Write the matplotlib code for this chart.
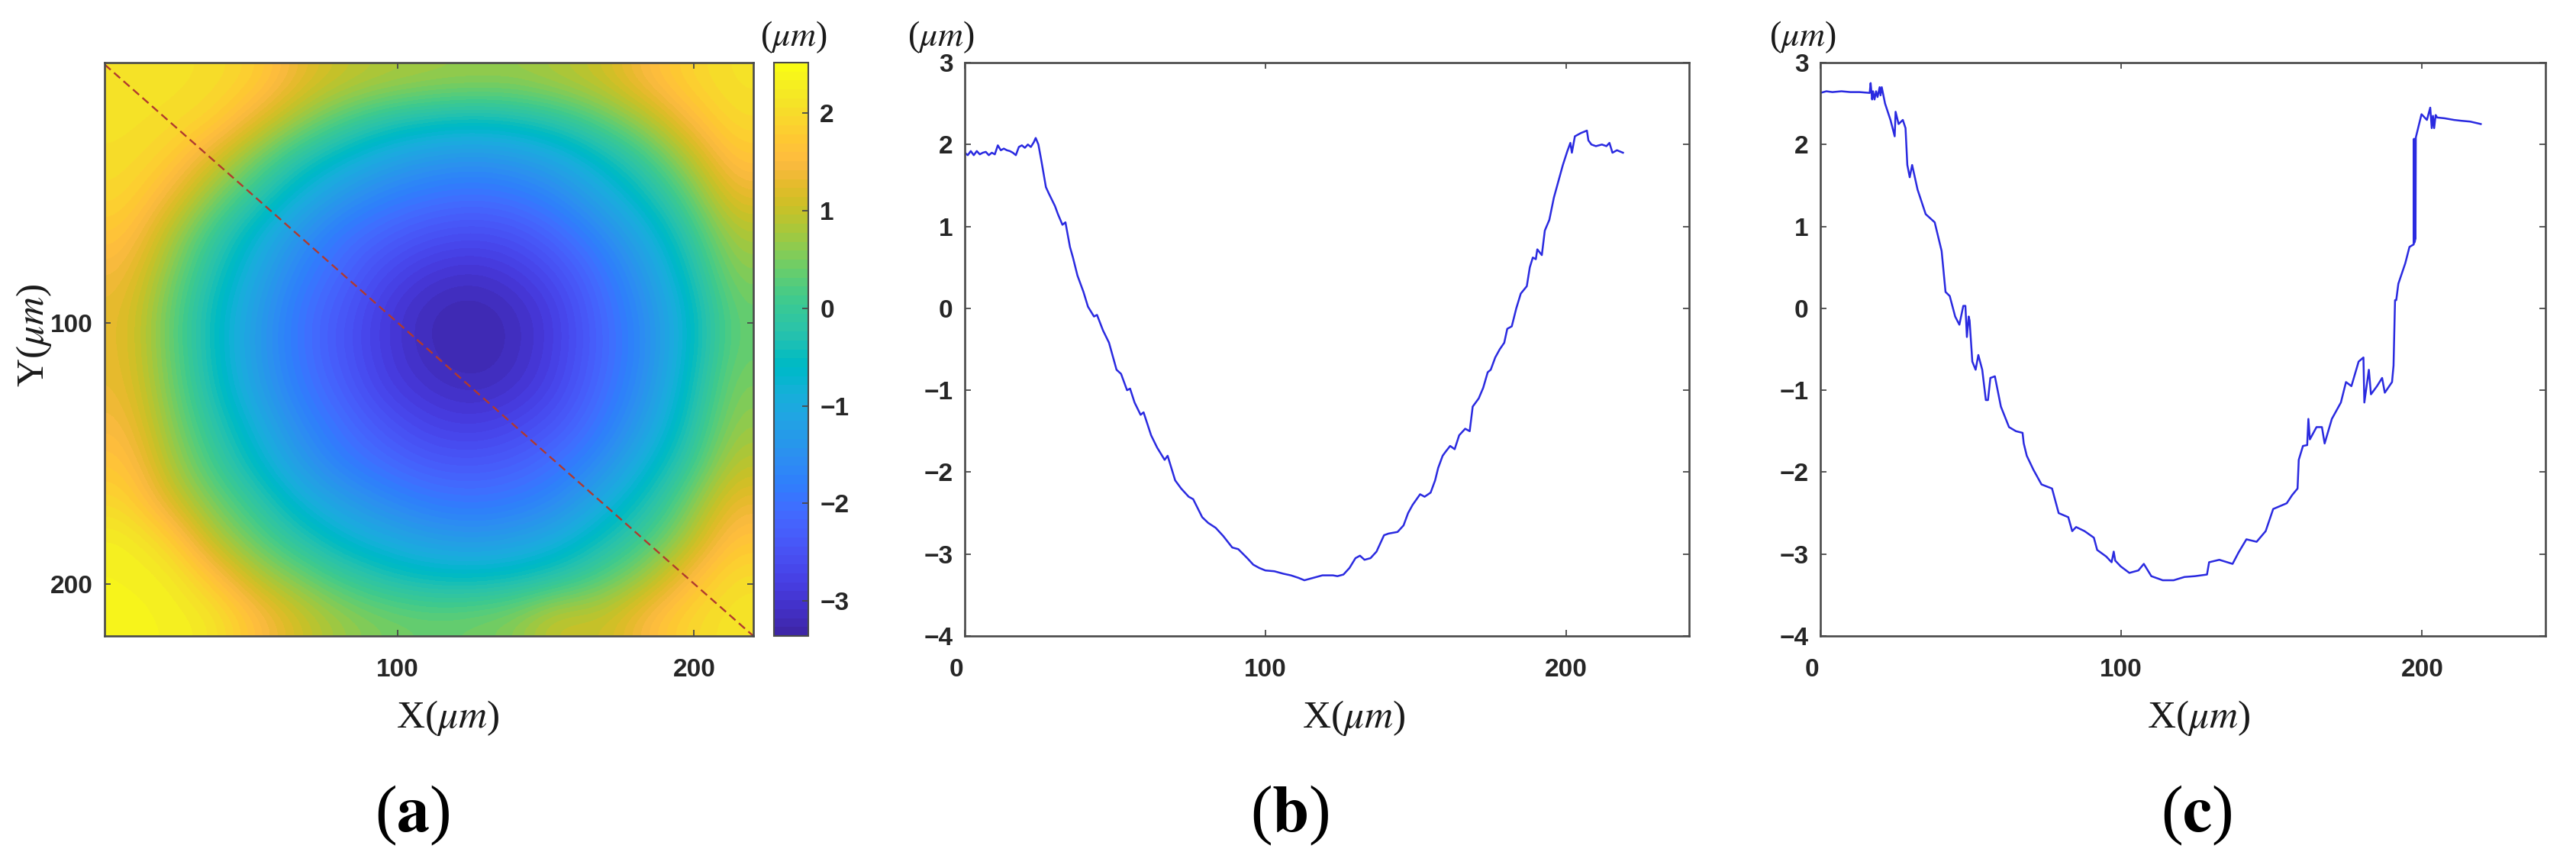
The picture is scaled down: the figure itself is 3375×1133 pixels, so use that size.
import numpy as np
import matplotlib
matplotlib.use("Agg")
import matplotlib.pyplot as plt
from matplotlib.colors import ListedColormap
from matplotlib.transforms import ScaledTranslation

W, H = 3375, 1133

# ---- data ----
height_map = [
    [2.10, 2.10, 2.05, 1.85, 1.30, 1.00, 0.85, 0.75, 0.70, 0.70, 0.85, 1.05, 1.50, 1.90, 2.10],
    [2.10, 2.05, 1.90, 1.30, 0.70, 0.20, -0.20, -0.40, -0.50, -0.40, -0.15, 0.30, 0.80, 1.50, 2.00],
    [2.05, 1.85, 1.20, 0.50, -0.20, -0.70, -1.10, -1.35, -1.45, -1.35, -1.05, -0.55, 0.05, 0.85, 1.70],
    [1.95, 1.40, 0.60, -0.15, -0.85, -1.40, -1.75, -1.95, -2.05, -1.95, -1.65, -1.10, -0.50, 0.30, 1.30],
    [1.70, 0.90, 0.00, -0.75, -1.45, -1.95, -2.25, -2.50, -2.60, -2.50, -2.15, -1.65, -1.00, -0.15, 0.85],
    [1.45, 0.60, -0.30, -1.05, -1.75, -2.20, -2.65, -2.95, -3.05, -2.90, -2.55, -2.00, -1.35, -0.45, 0.60],
    [1.30, 0.40, -0.50, -1.25, -1.95, -2.40, -2.90, -3.20, -3.30, -3.15, -2.80, -2.15, -1.55, -0.70, 0.40],
    [1.30, 0.40, -0.50, -1.30, -1.95, -2.45, -2.90, -3.20, -3.33, -3.17, -2.80, -2.20, -1.60, -0.70, 0.40],
    [1.35, 0.50, -0.40, -1.20, -1.85, -2.30, -2.80, -3.05, -3.17, -3.05, -2.70, -2.10, -1.50, -0.55, 0.55],
    [1.50, 0.65, -0.15, -0.90, -1.60, -2.05, -2.45, -2.75, -2.85, -2.70, -2.40, -1.90, -1.25, -0.35, 0.70],
    [1.70, 0.85, 0.10, -0.60, -1.30, -1.80, -2.10, -2.35, -2.40, -2.30, -2.00, -1.55, -0.85, -0.05, 0.95],
    [1.95, 1.20, 0.50, -0.10, -0.80, -1.25, -1.60, -1.85, -1.95, -1.85, -1.60, -1.00, -0.40, 0.45, 1.35],
    [2.30, 1.90, 0.95, 0.35, -0.20, -0.70, -1.00, -1.25, -1.35, -1.25, -0.95, -0.45, 0.10, 0.85, 1.70],
    [2.35, 2.30, 1.70, 0.95, 0.50, 0.05, -0.30, -0.50, -0.55, -0.45, -0.20, 0.25, 0.75, 1.50, 2.05],
    [2.35, 2.35, 2.20, 1.60, 1.10, 0.70, 0.50, 0.40, 0.45, 0.60, 1.10, 1.00, 1.50, 1.95, 2.15],
]
diagonal_x = [1, 220]
diagonal_y = [1, 220]

profile_b_x = [0, 1, 2, 3, 4, 5, 6, 7, 8, 9, 10, 11, 12, 13, 14, 15, 16, 17, 18, 19, 20, 21, 22, 23, 23.6, 24.5,
               25.5, 27, 28, 30, 31, 32.5, 33.5, 35, 36, 37.5, 39.5, 41, 43, 44, 46, 48, 49.5, 50.5, 52, 54, 55, 56.5, 58.5, 59.5, 62, 64, 66.5,
               67.5, 70, 72, 74.5, 76, 79, 81, 83.5, 86, 89, 91, 94, 96, 98, 100, 103, 106, 108.5, 111, 113, 115, 117, 119,
               122.5, 124, 126, 128, 130, 131.5, 133, 135, 137, 139.5, 141, 144, 146, 147.5, 149, 151.5, 153, 155, 156.5,
               157.5, 159, 160, 161.5, 163, 164.5, 166.5, 168, 169, 171, 172.5, 174, 175, 176.5, 178, 179.5, 180.5, 182, 183.5,
               185, 187, 188, 189, 190, 190.5, 192, 193, 194.5, 196, 197.5, 199, 200.5, 201.5, 202, 203, 205, 207, 207.5, 208.5,
               210, 212, 213.5, 214.5, 215.5, 217, 219]
profile_b_y = [1.90, 1.87, 1.92, 1.87, 1.92, 1.88, 1.90, 1.91, 1.87, 1.90, 1.88, 1.99, 1.93, 1.95, 1.93, 1.92, 1.90, 1.87, 1.97, 1.99, 1.96, 2.00, 1.97, 2.03, 2.08, 2.00,
               1.80, 1.48, 1.40, 1.25, 1.15, 1.02, 1.05, 0.75, 0.62, 0.40, 0.20, 0.02, -0.10, -0.08, -0.27, -0.42, -0.62, -0.75, -0.80, -1.00, -0.98, -1.15, -1.30, -1.27, -1.55, -1.70, -1.85,
               -1.80, -2.10, -2.20, -2.30, -2.33, -2.55, -2.62, -2.68, -2.78, -2.92, -2.94, -3.05, -3.13, -3.17, -3.20, -3.21, -3.24, -3.26, -3.29, -3.32, -3.30, -3.28, -3.26,
               -3.26, -3.27, -3.25, -3.17, -3.05, -3.02, -3.07, -3.05, -2.97, -2.77, -2.75, -2.73, -2.65, -2.50, -2.40, -2.27, -2.30, -2.25, -2.10,
               -1.95, -1.80, -1.75, -1.68, -1.72, -1.55, -1.47, -1.50, -1.20, -1.10, -0.97, -0.78, -0.75, -0.60, -0.50, -0.42, -0.25, -0.22, 0.00,
               0.18, 0.27, 0.50, 0.62, 0.60, 0.72, 0.65, 0.95, 1.08, 1.35, 1.55, 1.75, 1.92, 2.02, 1.90, 2.10, 2.14, 2.17, 2.05, 2.00,
               1.98, 2.00, 1.98, 2.02, 1.90, 1.93, 1.90]

profile_c_x = [0, 2, 4, 7, 10, 13, 16.4, 16.7, 17.2, 17.5, 18, 18.5, 19, 19.7, 20, 20.4, 21.5, 23.3, 24.7, 25, 26, 27.4, 28.3, 28.9, 29.7, 30.5, 32.3,
               35, 38, 40.3, 41.6, 43, 44.8, 46.2, 47.5, 48.2, 48.7, 49.3, 49.6, 50.5, 51.6, 52.5, 53.8, 55, 55.7, 56.5, 58, 60, 62.7, 65, 67.2, 67.6, 68.6, 70.8, 73.5,
               77, 79.2, 82.4, 83.7, 85, 87.8, 90.9, 92, 95, 96.8, 97.5, 98, 99.8, 102.7, 105.7, 107.5, 110, 113.8, 117.4, 121, 124.5, 128.5, 129.2, 132.6,
               137, 139, 141.6, 145, 148, 150.5, 155, 156.8, 158.6, 159, 160.4, 161.8, 162.2, 162.7, 164.9, 166.7, 167.6, 170, 173, 174.7, 176.5, 178.9,
               180.5, 180.8, 182.3, 183, 185, 186.7, 187.6, 190, 190.5, 191, 191.4, 192.1, 194.4, 195.8, 197.2, 197.3, 197.4, 197.5, 197.6, 197.7, 197.8, 197.9, 198,
               199, 199.8, 201.6, 202.7, 203.2, 203.6, 204, 204.5, 205, 207.5, 210.6, 213, 216, 219.5]
profile_c_y = [2.63, 2.65, 2.64, 2.65, 2.64, 2.64, 2.63, 2.75, 2.55, 2.65, 2.55, 2.65, 2.58, 2.70, 2.60, 2.70, 2.50, 2.30, 2.10, 2.40, 2.25, 2.30, 2.20, 1.75, 1.60, 1.75, 1.45,
               1.15, 1.05, 0.70, 0.20, 0.15, -0.10, -0.20, 0.03, 0.03, -0.35, -0.10, -0.15, -0.65, -0.75, -0.57, -0.75, -1.12, -1.12, -0.85, -0.83, -1.20, -1.45, -1.50, -1.52, -1.65, -1.80, -1.97, -2.15,
               -2.20, -2.50, -2.55, -2.72, -2.67, -2.72, -2.80, -2.95, -3.03, -3.10, -2.97, -3.08, -3.15, -3.23, -3.20, -3.12, -3.27, -3.32, -3.32, -3.28, -3.27, -3.25, -3.10, -3.07,
               -3.12, -2.98, -2.82, -2.85, -2.72, -2.45, -2.38, -2.28, -2.20, -1.85, -1.68, -1.67, -1.35, -1.60, -1.45, -1.45, -1.65, -1.35, -1.15, -0.90, -0.95, -0.65,
               -0.60, -1.15, -0.75, -1.05, -0.95, -0.85, -1.03, -0.90, -0.70, 0.10, 0.10, 0.30, 0.55, 0.75, 0.78, 2.07, 0.80, 2.05, 0.82, 2.07, 0.85, 2.08, 2.10,
               2.25, 2.37, 2.30, 2.45, 2.20, 2.35, 2.20, 2.36, 2.33, 2.32, 2.30, 2.29, 2.28, 2.25]

x_ticks_a = [100, 200]
y_ticks_a = [100, 200]
cbar_ticks = [-3, -2, -1, 0, 1, 2]
x_ticks_line = [0, 100, 200]
y_ticks_line = [-4, -3, -2, -1, 0, 1, 2, 3]

parula = [
    (0.2422,0.1504,0.6603),(0.2504,0.1650,0.7076),(0.2578,0.1818,0.7511),(0.2647,0.1978,0.7952),
    (0.2706,0.2147,0.8364),(0.2751,0.2342,0.8710),(0.2783,0.2559,0.8991),(0.2803,0.2782,0.9221),
    (0.2813,0.3006,0.9414),(0.2810,0.3228,0.9579),(0.2795,0.3447,0.9717),(0.2760,0.3667,0.9829),
    (0.2699,0.3892,0.9906),(0.2602,0.4123,0.9952),(0.2440,0.4358,0.9988),(0.2206,0.4603,0.9973),
    (0.1963,0.4847,0.9892),(0.1834,0.5074,0.9798),(0.1786,0.5289,0.9682),(0.1764,0.5499,0.9520),
    (0.1687,0.5703,0.9359),(0.1540,0.5902,0.9218),(0.1460,0.6091,0.9079),(0.1380,0.6276,0.8973),
    (0.1248,0.6459,0.8883),(0.1113,0.6635,0.8763),(0.0952,0.6798,0.8598),(0.0689,0.6948,0.8394),
    (0.0297,0.7082,0.8163),(0.0036,0.7203,0.7917),(0.0067,0.7312,0.7660),(0.0433,0.7411,0.7394),
    (0.0964,0.7500,0.7120),(0.1408,0.7584,0.6842),(0.1717,0.7670,0.6554),(0.1938,0.7758,0.6251),
    (0.2161,0.7843,0.5923),(0.2470,0.7918,0.5567),(0.2906,0.7973,0.5188),(0.3406,0.8008,0.4789),
    (0.3909,0.8029,0.4354),(0.4456,0.8024,0.3909),(0.5044,0.7993,0.3480),(0.5616,0.7942,0.3045),
    (0.6174,0.7876,0.2612),(0.6720,0.7793,0.2227),(0.7242,0.7698,0.1910),(0.7738,0.7598,0.1646),
    (0.8203,0.7498,0.1535),(0.8634,0.7406,0.1596),(0.9035,0.7330,0.1774),(0.9393,0.7288,0.2100),
    (0.9728,0.7298,0.2394),(0.9956,0.7434,0.2371),(0.9970,0.7659,0.2199),(0.9952,0.7861,0.1967),
    (0.9892,0.8136,0.1885),(0.9786,0.8386,0.1766),(0.9676,0.8639,0.1643),(0.9610,0.8890,0.1537),
    (0.9597,0.9135,0.1423),(0.9628,0.9373,0.1265),(0.9691,0.9606,0.1064),(0.9769,0.9839,0.0805),
]
cmap = ListedColormap(parula)

plt.rcParams['mathtext.fontset'] = 'stix'
plt.rcParams['font.family'] = ['Liberation Sans', 'DejaVu Sans']
plt.rcParams['axes.unicode_minus'] = True

TICK_COLOR = '#262626'
SPINE = '#4a4a4a'
SERIF = ['Liberation Serif', 'DejaVu Serif']

fig = plt.figure(figsize=(W / 100, H / 100), dpi=100)


def box(left, right, top, bottom):
    return [left / W, 1 - bottom / H, (right - left) / W, (bottom - top) / H]


def ftext(px, py, s, **kw):
    fig.text(px / W, 1 - py / H, s, ha='center', va='center', **kw)


def style(ax, pad_x=20, pad_y=11):
    for sp in ax.spines.values():
        sp.set_color(SPINE)
        sp.set_linewidth(1.9)
    ax.tick_params(direction='in', top=True, right=True, length=5.5, width=1.3,
                   color=SPINE, labelcolor=TICK_COLOR, labelsize=24)
    ax.tick_params(axis='x', pad=pad_x)
    ax.tick_params(axis='y', pad=pad_y)
    for lab in ax.get_xticklabels() + ax.get_yticklabels():
        lab.set_fontweight('bold')


# panel a
ax_a = fig.add_axes(box(137, 987, 82, 833))
im = ax_a.imshow(height_map, cmap=cmap, vmin=-3.36, vmax=2.52, extent=(1, 220, 220, 0.3),
                 aspect='auto', interpolation='bicubic')
ax_a.plot(diagonal_x, diagonal_y, color='#b03a2e', lw=1.7, ls=(0, (4.5, 2.5)))
ax_a.set_xlim(1, 220)
ax_a.set_ylim(220, 0.3)
ax_a.set_xticks(x_ticks_a)
ax_a.set_yticks(y_ticks_a)
style(ax_a, pad_x=21, pad_y=11)

cax = fig.add_axes(box(1014, 1059, 82, 833))
cb = fig.colorbar(im, cax=cax)
cb.set_ticks(cbar_ticks)
cb.outline.set_edgecolor(SPINE)
cb.outline.set_linewidth(1.5)
cax.tick_params(direction='in', length=5.5, width=1.3, color=SPINE, labelcolor=TICK_COLOR,
                labelsize=24, pad=11)
for lab in cax.get_yticklabels():
    lab.set_fontweight('bold')

ftext(1040, 49, r'($\mu m$)', fontsize=33, family=SERIF, color='#1a1a1a')
ftext(587, 940, r'X($\mu m$)', fontsize=37, family=SERIF, color='#1a1a1a')
ftext(44, 439, r'Y($\mu m$)', fontsize=37, family=SERIF, color='#1a1a1a', rotation=90)
ftext(540, 1068, r'($\mathbf{a}$)', fontsize=62, family=SERIF, color='black')

# panels b and c
for box_px, xs, ys, unit_x, xlabel_x, tag, tag_x in [
    ((1264, 2213, 82, 833), profile_b_x, profile_b_y, 1233, 1774, r'($\mathbf{b}$)', 1690),
    ((2385, 3335, 82, 833), profile_c_x, profile_c_y, 2362, 2881, r'($\mathbf{c}$)', 2878),
]:
    ax = fig.add_axes(box(*box_px))
    ax.plot(xs, ys, color='#2a2ae0', lw=1.8)
    ax.set_xlim(0, 241)
    ax.set_ylim(-4, 3)
    ax.set_xticks(x_ticks_line)
    ax.set_yticks(y_ticks_line)
    style(ax, pad_x=21, pad_y=11)
    first = ax.get_xticklabels()[0]
    first.set_transform(first.get_transform() + ScaledTranslation(-11 / 100, 0, fig.dpi_scale_trans))
    ftext(unit_x, 49, r'($\mu m$)', fontsize=33, family=SERIF, color='#1a1a1a')
    ftext(xlabel_x, 940, r'X($\mu m$)', fontsize=37, family=SERIF, color='#1a1a1a')
    ftext(tag_x, 1068, tag, fontsize=62, family=SERIF, color='black')

fig.savefig('out.png', dpi=100)
